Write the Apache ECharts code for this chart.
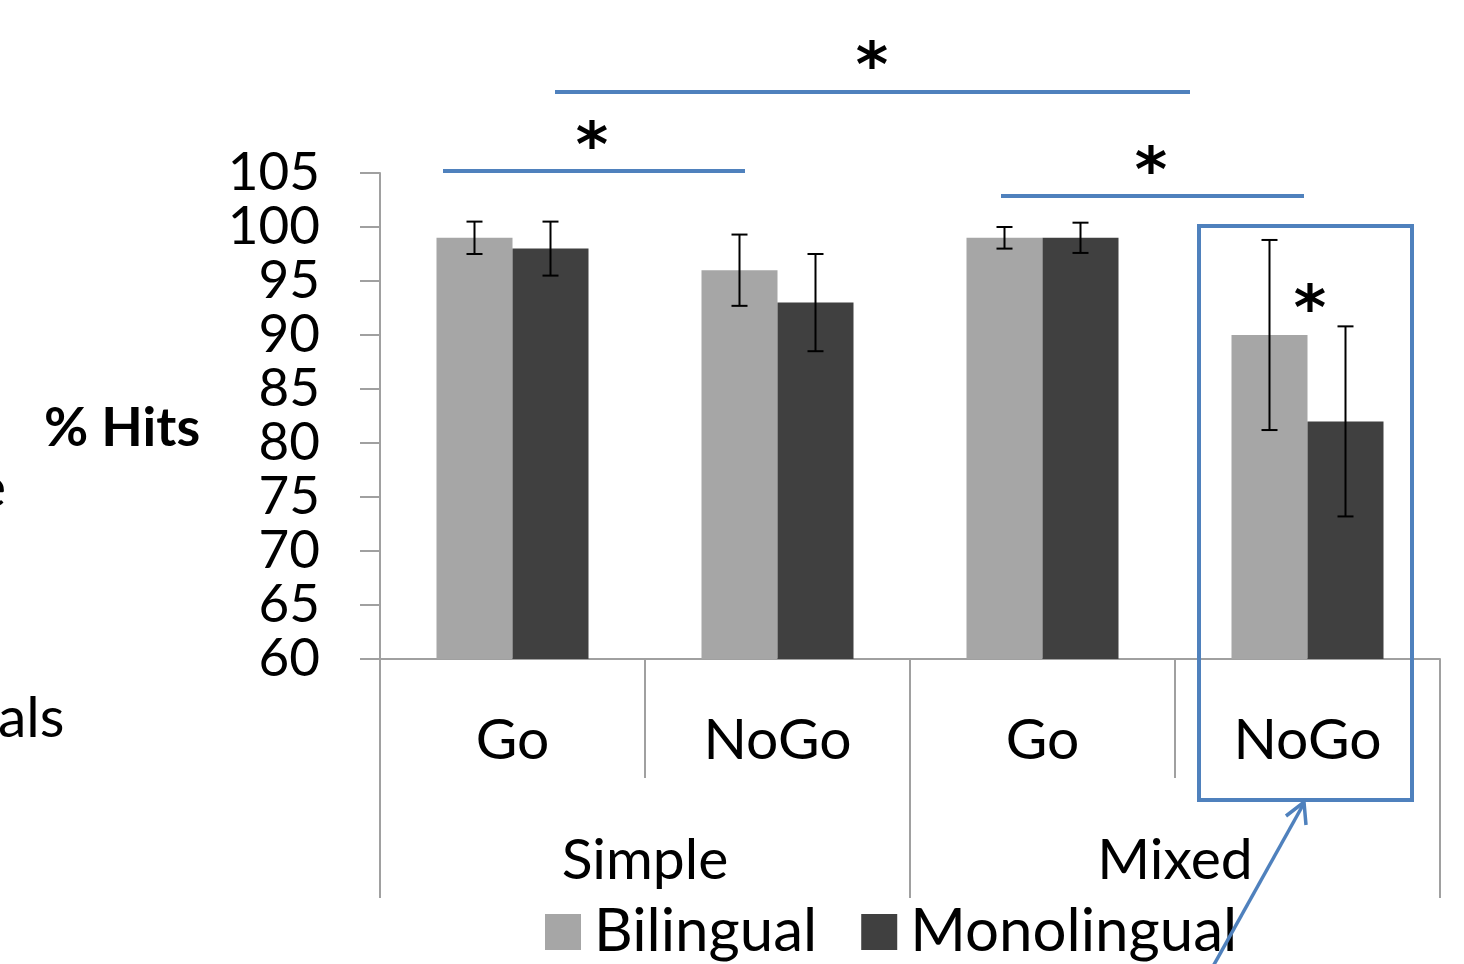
<!DOCTYPE html>
<html><head><meta charset="utf-8">
<script src="https://cdn.jsdelivr.net/npm/echarts@6/dist/echarts.min.js"></script>
<style>html,body{margin:0;padding:0;background:#fff}#c{width:1464px;height:964px}</style>
</head><body><div id="c"></div>
<script>
const conditions = ['Go', 'NoGo', 'Go', 'NoGo'];
const blocks = ['Simple', 'Mixed'];
const bilingual = [99, 96, 99, 90];
const monolingual = [98, 93, 99, 82];
const bilingualErr = [1.5, 3.3, 1.0, 8.8];
const monolingualErr = [2.5, 4.5, 1.4, 8.8];
const yTicks = {min: 60, max: 105, interval: 5};

const FONT = 'Lato, "Open Sans", sans-serif';
const BLUE = '#4F81BD';
const BAR_W = 76;

function errSeries(name, vals, errs, side) {
  return {
    type: 'custom', name: name + ' err', xAxisIndex: 0, z: 10,
    data: vals.map((v, i) => [i, v - errs[i], v + errs[i]]),
    renderItem: function (params, api) {
      const lo = api.coord([api.value(0), api.value(1)]);
      const hi = api.coord([api.value(0), api.value(2)]);
      const x = lo[0] + side * BAR_W / 2;
      const cap = 8;
      const st = {stroke: '#000', lineWidth: 2};
      return {type: 'group', children: [
        {type: 'line', shape: {x1: x, y1: lo[1], x2: x, y2: hi[1]}, style: st},
        {type: 'line', shape: {x1: x - cap, y1: lo[1], x2: x + cap, y2: lo[1]}, style: st},
        {type: 'line', shape: {x1: x - cap, y1: hi[1], x2: x + cap, y2: hi[1]}, style: st}
      ]};
    },
    tooltip: {show: false}
  };
}

function star(x, y) {
  return {type: 'text', x: x, y: y, z: 30,
    style: {text: '*', font: 'bold 62px "DejaVu Sans"', fill: '#000', textAlign: 'center', textVerticalAlign: 'middle'}};
}

const chart = echarts.init(document.getElementById('c'));
chart.setOption({
  animation: false,
  backgroundColor: '#fff',
  grid: {left: 380, right: 24, top: 173, bottom: 305, containLabel: false},
  legend: {
    left: 545, top: 902, padding: 0, itemWidth: 36, itemHeight: 36, itemGap: 44,
    icon: 'rect',
    textStyle: {fontSize: 60, color: '#000', fontFamily: FONT, padding: [0, 0, 0, 8]},
    data: ['Bilingual', 'Monolingual']
  },
  xAxis: [
    {
      type: 'category', data: conditions, position: 'bottom',
      axisLine: {show: true, lineStyle: {color: '#A0A0A0', width: 2}},
      axisTick: {show: true, length: 119, interval: 0, lineStyle: {color: '#A0A0A0', width: 2}},
      axisLabel: {fontSize: 57, color: '#000', fontFamily: FONT, margin: 53, interval: 0}
    },
    {
      type: 'category', data: blocks, position: 'bottom',
      axisLine: {show: false},
      axisTick: {show: true, length: 239, interval: 0, lineStyle: {color: '#A0A0A0', width: 2}},
      axisLabel: {fontSize: 57, color: '#000', fontFamily: FONT, margin: 173, interval: 0}
    }
  ],
  yAxis: {
    type: 'value', min: yTicks.min, max: yTicks.max, interval: yTicks.interval,
    axisLine: {show: true, lineStyle: {color: '#A0A0A0', width: 2}},
    axisTick: {show: true, length: 20, lineStyle: {color: '#A0A0A0', width: 2}},
    axisLabel: {fontSize: 53, color: '#000', fontFamily: FONT, margin: 60},
    splitLine: {show: false}
  },
  series: [
    {name: 'Bilingual', type: 'bar', xAxisIndex: 0, data: bilingual, barWidth: BAR_W, barGap: '0%',
      itemStyle: {color: '#A6A6A6'}},
    {name: 'Monolingual', type: 'bar', xAxisIndex: 0, data: monolingual, barWidth: BAR_W, barGap: '0%',
      itemStyle: {color: '#404040'}},
    errSeries('Bilingual', bilingual, bilingualErr, -1),
    errSeries('Monolingual', monolingual, monolingualErr, 1)
  ],
  graphic: [
    {type: 'text', left: 44, top: 402, style: {text: '% Hits', font: 'bold 54px ' + FONT, fill: '#000'}},
    {type: 'text', left: -24, top: 460, style: {text: 'e', font: '57px ' + FONT, fill: '#000'}},
    {type: 'text', left: -2, top: 690, style: {text: 'als', font: '57px ' + FONT, fill: '#000'}},
    {type: 'line', shape: {x1: 555, y1: 92, x2: 1190, y2: 92}, style: {stroke: BLUE, lineWidth: 4}},
    {type: 'line', shape: {x1: 443, y1: 171, x2: 745, y2: 171}, style: {stroke: BLUE, lineWidth: 4}},
    {type: 'line', shape: {x1: 1001, y1: 196, x2: 1304, y2: 196}, style: {stroke: BLUE, lineWidth: 4}},
    star(872, 70), star(592, 150), star(1151, 175), star(1310, 313),
    {type: 'rect', shape: {x: 1199, y: 226, width: 213, height: 574}, style: {fill: 'none', stroke: BLUE, lineWidth: 4}, z: 20},
    {type: 'line', shape: {x1: 1211, y1: 970, x2: 1303, y2: 805}, style: {stroke: BLUE, lineWidth: 3.5}, z: 20},
    {type: 'polyline', shape: {points: [[1286, 816], [1304, 802], [1306, 825]]}, style: {stroke: BLUE, lineWidth: 3.5, fill: 'none'}, z: 20}
  ]
});
</script>
</body></html>
